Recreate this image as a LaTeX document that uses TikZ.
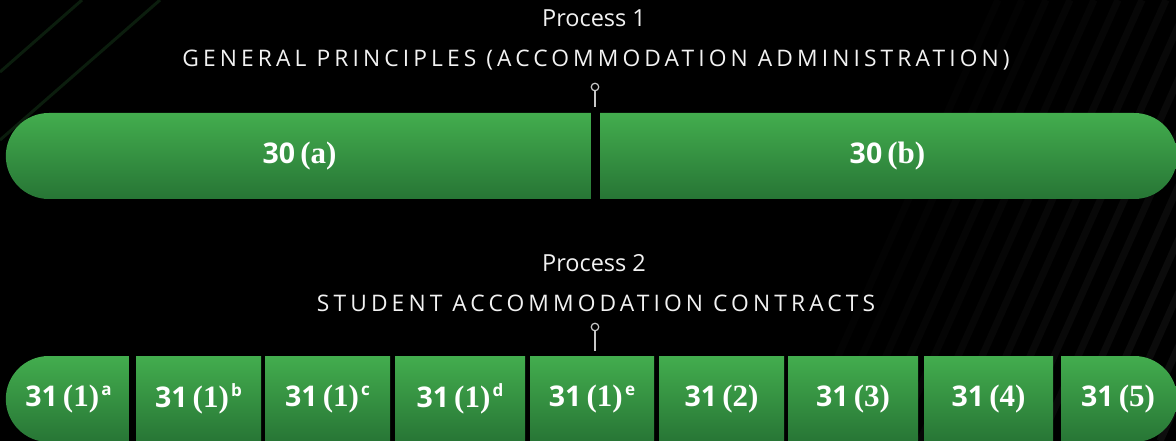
\documentclass[tikz,border=0pt]{standalone}
\usepackage{fontspec}
\setmainfont{Open Sans}
\newfontfamily\capsfont{Open Sans}[LetterSpace=18]
\newfontfamily\parfont{Liberation Serif}
\usetikzlibrary{shapes.misc}

\definecolor{bartop}{HTML}{43AD4E}
\definecolor{barbot}{HTML}{277535}
\definecolor{glint}{HTML}{0B1D0D}
\definecolor{pinc}{HTML}{C8C8C8}
\definecolor{head}{HTML}{F2F2F2}

% clause label: number, bracketed part, optional letter
\newcommand\clause[3]{{\bfseries #1}\kern0.18em{\parfont\bfseries\fontsize{31}{31}\selectfont(#2)}%
  \ifx\relax#3\relax\else\kern0.08em\raisebox{10.5pt}{\fontsize{17}{17}\selectfont\bfseries #3}\fi}

\tikzset{
  seg/.style={top color=bartop, bottom color=barbot, draw=none, inner sep=0pt,
    minimum height=86pt, text=white, font=\fontsize{28.5}{28.5}\selectfont},
  lcap/.style={seg, rounded rectangle, rounded rectangle east arc=none},
  rcap/.style={seg, rounded rectangle, rounded rectangle west arc=none},
  cell/.style={seg, rectangle},
  head/.style={text=head, inner sep=0pt, anchor=base},
  pinhead/.style={circle, draw=pinc, fill=black, line width=1.2pt, minimum size=7.5pt, inner sep=0pt},
  pinline/.style={draw=pinc, line width=1.5pt},
}

\begin{document}
\begin{tikzpicture}[x=1pt, y=-1pt]
\useasboundingbox (0,0) rectangle (1176,441);
\fill[black] (0,0) rectangle (1176,441);

% faint diagonal stripes on the right
\begin{scope}
  \clip (0,0) rectangle (1176,441);
  \foreach \i in {0,...,17} {
    \pgfmathsetmacro\op{0.01+0.045*\i/17}
    \draw[white, opacity=\op, line width=7pt] (800+24*\i,441) -- (800+24*\i+198,0);
  }
  \draw[glint, line width=3pt] (0,72) -- (82,0);
  \draw[glint, line width=3pt] (0,140) -- (160,0);
\end{scope}

% process 1
\node[head, font=\fontsize{23.5}{23.5}\selectfont] (p1) at (594,27) {Process 1};
\node[head, font=\fontsize{22.8}{22.8}\selectfont\capsfont] (t1) at (596,67) {GENERAL PRINCIPLES (ACCOMMODATION ADMINISTRATION)};
\node[pinhead] (k1) at (595,87) {};
\coordinate (k1e) at (595,107);
\draw[pinline] (k1) -- (k1e);

\node[lcap, minimum width=585pt] (a) at (299.5,156) {\clause{30}{a}{}};
\node[rcap, minimum width=577pt] (b) at (887.5,156) {\clause{30}{b}{}};

% process 2
\node[head, font=\fontsize{23.5}{23.5}\selectfont] (p2) at (594,271) {Process 2};
\node[head, font=\fontsize{22.8}{22.8}\selectfont\capsfont] (t2) at (596,311) {STUDENT ACCOMMODATION CONTRACTS};
\node[pinhead] (k2) at (595,327) {};
\coordinate (k2e) at (595,351);
\draw[pinline] (k2) -- (k2e);

\node[lcap, minimum width=123pt] (c1) at (68.5,399) {\clause{31}{1}{a}};
\node[cell, minimum width=125pt] (c2) at (198.5,399) {\clause{31}{1}{b}};
\node[cell, minimum width=125pt] (c3) at (327.5,399) {\clause{31}{1}{c}};
\node[cell, minimum width=130pt] (c4) at (460,399) {\clause{31}{1}{d}};
\node[cell, minimum width=124pt] (c5) at (592,399) {\clause{31}{1}{e}};
\node[cell, minimum width=125pt] (c6) at (721.5,399) {\clause{31}{2}{}};
\node[cell, minimum width=130pt] (c7) at (853,399) {\clause{31}{3}{}};
\node[cell, minimum width=129pt] (c8) at (988.5,399) {\clause{31}{4}{}};
\node[rcap, minimum width=116pt] (c9) at (1118,399) {\clause{31}{5}{}};
\end{tikzpicture}
\end{document}
